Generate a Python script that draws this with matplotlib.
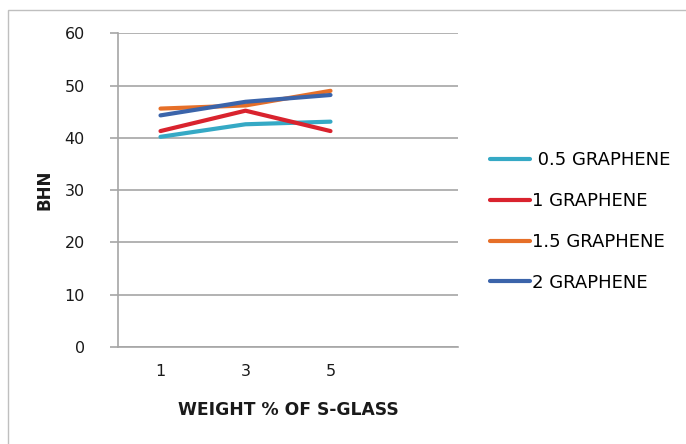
import matplotlib
matplotlib.use("Agg")
import matplotlib.pyplot as plt
from matplotlib.patches import Rectangle

categories = ["1", "3", "5", ""]
series_names = [" 0.5 GRAPHENE", "1 GRAPHENE", "1.5 GRAPHENE", "2 GRAPHENE"]
s05 = [40.2, 42.6, 43.1]
s1 = [41.3, 45.2, 41.3]
s15 = [45.6, 46.2, 49.0]
s2 = [44.3, 46.9, 48.2]
yticks = [0, 10, 20, 30, 40, 50, 60]
colors = ["#35A9C5", "#D9232E", "#E66F28", "#3B64AA"]

fig = plt.figure(figsize=(6.86, 4.44), dpi=100)
ax = fig.add_axes([118/686, 1-347/444, 340/686, (347-33.3)/444])

x = list(range(len(categories)))
for vals, name, c in zip([s05, s1, s15, s2], series_names, colors):
    ax.plot(x[:len(vals)], vals, color=c, lw=3.0, label=name, solid_capstyle="round")

ax.set_xlim(-0.5, 3.5)
ax.set_ylim(0, 60)
ax.set_yticks(yticks)
ax.set_xticks(x)
ax.set_xticklabels(categories)
ax.yaxis.grid(True, color="#A6A6A6", lw=1.2)
ax.set_axisbelow(True)
for s in ["top", "right"]:
    ax.spines[s].set_visible(False)
for s in ["left", "bottom"]:
    ax.spines[s].set_color("#A6A6A6")
    ax.spines[s].set_linewidth(1.2)
ax.tick_params(axis="y", length=6, width=1.2, color="#A6A6A6", labelsize=11.5, pad=18, labelcolor="#1a1a1a")
ax.tick_params(axis="x", length=0, labelsize=11.5, pad=12, labelcolor="#1a1a1a")
ax.set_xlabel("WEIGHT % OF S-GLASS", fontsize=12.3, fontweight="bold", labelpad=16, color="#1a1a1a")
ax.set_ylabel("BHN", fontsize=12, fontweight="bold", labelpad=8, color="#1a1a1a")

leg = ax.legend(loc="upper left", bbox_to_anchor=((490-118)/340, (347-151)/(347-33.3)),
                frameon=False, fontsize=13, handlelength=2.2, handletextpad=0.12,
                labelspacing=1.27, borderaxespad=0, borderpad=0)

fig.patches.append(Rectangle((8/686, -0.1), 1.2, 0.1 + (1-10/444), transform=fig.transFigure,
                             fill=False, edgecolor="#BFBFBF", lw=1.0))

fig.savefig("out.png", dpi=100)
